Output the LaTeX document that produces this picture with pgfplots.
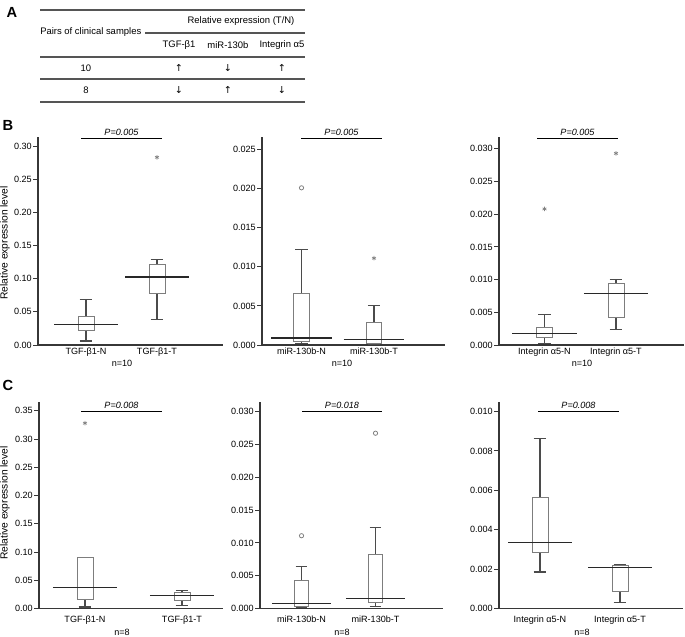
\documentclass[border=0pt]{standalone}
\usepackage{pgfplots}
\pgfplotsset{compat=1.18}
\usepgfplotslibrary{statistics}
\usepackage{fontspec}
\setmainfont{Liberation Sans}
\newfontfamily\arrfont{DejaVu Sans}

\definecolor{axcol}{RGB}{55,55,55}
\definecolor{boxcol}{RGB}{125,125,125}
\definecolor{whcol}{RGB}{75,75,75}
\definecolor{medcol}{RGB}{40,40,40}
\definecolor{tabcol}{RGB}{85,85,85}

\newcommand{\tfont}{\fontsize{6.8}{7.5}\selectfont}
\newcommand{\tabfont}{\fontsize{7.1}{8}\selectfont}

\pgfplotsset{
  bxp/.style={
    scale only axis,
    anchor=south west,
    axis lines=left,
    axis line style={-, draw=axcol, line width=0.9pt},
    ymin=0,
    xtick={1,2},
    xtick style={draw=none},
    ytick style={draw=axcol, line width=0.7pt},
    tick align=outside,
    major tick length=3.5pt,
    tick label style={font=\tfont, text=black},
    /pgf/number format/assume math mode=true,
    scaled y ticks=false,
    yticklabel style={/pgf/number format/fixed, /pgf/number format/fixed zerofill, inner sep=1pt},
    xticklabel style={inner sep=1.5pt},
    clip=false,
    boxplot/draw direction=y,
    boxplot/every box/.style={draw=boxcol, line width=0.7pt},
    boxplot/every whisker/.style={draw=whcol, line width=0.8pt},
    boxplot/every median/.style={draw=medcol, line width=0.8pt},
    boxplot/draw/median/.code={
      \draw[/pgfplots/boxplot/every median/.try]
        (boxplot box cs:\pgfplotsboxplotvalue{median},-1.5) --
        (boxplot box cs:\pgfplotsboxplotvalue{median},2.5);
    },
  },
  rowB/.style={xticklabel style={yshift=3pt}},
  outl star/.style={mark=asterisk, mark size=1.7pt, mark options={draw=gray, line width=0.5pt}},
  outl circ/.style={mark=o, mark size=1.6pt, mark options={draw=gray, line width=0.6pt}},
}

\begin{document}
\begin{tikzpicture}
\path[use as bounding box] (0,0) rectangle (513.75pt,-477pt);

% ---------- B: n=10 ----------
\begin{axis}[bxp, rowB, at={(28.5pt,-258.75pt)}, width=138.75pt, height=156pt,
  xmin=0.324, xmax=2.930, ymax=0.3136,
  ytick={0,0.05,0.10,0.15,0.20,0.25,0.30},
  yticklabel style={/pgf/number format/precision=2},
  xticklabels={TGF-β1-N, TGF-β1-T}, boxplot/box extend=0.225]
\addplot[boxplot prepared={draw position=1, lower whisker=0.006, lower quartile=0.0225,
  median=0.0315, upper quartile=0.043, upper whisker=0.069}] coordinates {};
\addplot[boxplot prepared={draw position=2, lower whisker=0.038, lower quartile=0.078,
  median=0.1025, upper quartile=0.121, upper whisker=0.129}, outl star]
  table[row sep=\\, y index=0] {v\\ 0.283\\};
\end{axis}

\begin{axis}[bxp, rowB, at={(196.5pt,-258.75pt)}, width=137.25pt, height=156pt,
  xmin=0.455, xmax=2.979, ymax=0.0266,
  ytick={0,0.005,0.010,0.015,0.020,0.025},
  yticklabel style={/pgf/number format/precision=3},
  xticklabels={miR-130b-N, miR-130b-T}, boxplot/box extend=0.21]
\addplot[boxplot prepared={draw position=1, lower whisker=0.0002, lower quartile=0.0005,
  median=0.0009, upper quartile=0.0066, upper whisker=0.0122}, outl circ]
  table[row sep=\\, y index=0] {v\\ 0.0201\\};
\addplot[boxplot prepared={draw position=2, lower whisker=0.0001, lower quartile=0.0002,
  median=0.0007, upper quartile=0.0029, upper whisker=0.0050}, outl star]
  table[row sep=\\, y index=0] {v\\ 0.0111\\};
\end{axis}

\begin{axis}[bxp, rowB, at={(374.25pt,-258.75pt)}, width=138.75pt, height=156pt,
  xmin=0.364, xmax=2.951, ymax=0.0318,
  ytick={0,0.005,0.010,0.015,0.020,0.025,0.030},
  yticklabel style={/pgf/number format/precision=3},
  xticklabels={Integrin α5-N, Integrin α5-T}, boxplot/box extend=0.224]
\addplot[boxplot prepared={draw position=1, lower whisker=0.0003, lower quartile=0.00122,
  median=0.00182, upper quartile=0.00274, upper whisker=0.00473}, outl star]
  table[row sep=\\, y index=0] {v\\ 0.0208\\};
\addplot[boxplot prepared={draw position=2, lower whisker=0.00238, lower quartile=0.00415,
  median=0.00781, upper quartile=0.00942, upper whisker=0.0100}, outl star]
  table[row sep=\\, y index=0] {v\\ 0.0293\\};
\end{axis}

% ---------- C: n=8 ----------
\begin{axis}[bxp, at={(29.25pt,-456.5pt)}, width=138pt, height=155.25pt,
  xmin=0.526, xmax=2.423, ymax=0.366,
  ytick={0,0.05,0.10,0.15,0.20,0.25,0.30,0.35},
  yticklabel style={/pgf/number format/precision=2},
  xticklabels={TGF-β1-N, TGF-β1-T}, boxplot/box extend=0.165]
\addplot[boxplot prepared={draw position=1, lower whisker=0.003, lower quartile=0.0167,
  median=0.0375, upper quartile=0.0899, upper whisker=0.0905}, outl star]
  table[row sep=\\, y index=0] {v\\ 0.328\\};
\addplot[boxplot prepared={draw position=2, lower whisker=0.0048, lower quartile=0.0143,
  median=0.0238, upper quartile=0.0286, upper whisker=0.032}] coordinates {};
\end{axis}

\begin{axis}[bxp, at={(195pt,-456.5pt)}, width=137.25pt, height=155.25pt,
  xmin=0.439, xmax=2.912, ymax=0.0315,
  ytick={0,0.005,0.010,0.015,0.020,0.025,0.030},
  yticklabel style={/pgf/number format/precision=3},
  xticklabels={miR-130b-N, miR-130b-T}, boxplot/box extend=0.2]
\addplot[boxplot prepared={draw position=1, lower whisker=0.0002, lower quartile=0.0003,
  median=0.00076, upper quartile=0.0043, upper whisker=0.00646}, outl circ]
  table[row sep=\\, y index=0] {v\\ 0.0111\\};
\addplot[boxplot prepared={draw position=2, lower whisker=0.0004, lower quartile=0.0009,
  median=0.0015, upper quartile=0.0083, upper whisker=0.0123}, outl circ]
  table[row sep=\\, y index=0] {v\\ 0.0267\\};
\end{axis}

\begin{axis}[bxp, at={(374.25pt,-456.5pt)}, width=138pt, height=155.25pt,
  xmin=0.4875, xmax=2.7875, ymax=0.0105,
  ytick={0,0.002,0.004,0.006,0.008,0.010},
  yticklabel style={/pgf/number format/precision=3},
  xticklabels={Integrin α5-N, Integrin α5-T}, boxplot/box extend=0.2]
\addplot[boxplot prepared={draw position=1, lower whisker=0.00186, lower quartile=0.00283,
  median=0.00334, upper quartile=0.00563, upper whisker=0.00865}] coordinates {};
\addplot[boxplot prepared={draw position=2, lower whisker=0.00032, lower quartile=0.00089,
  median=0.00209, upper quartile=0.00219, upper whisker=0.00222}] coordinates {};
\end{axis}

% ---------- annotations (pixel coordinates) ----------
\begin{scope}[x=0.75pt, y=-0.75pt]
  % panel letters
  \node[font=\fontsize{11}{12}\selectfont\bfseries] at (12,12.5) {A};
  \node[font=\fontsize{11}{12}\selectfont\bfseries] at (8,125.5) {B};
  \node[font=\fontsize{11}{12}\selectfont\bfseries] at (8,385.5) {C};

  % table
  \begin{scope}[draw=tabcol, line width=0.9pt]
    \draw (40,10) -- (305,10);
    \draw (145,33) -- (305,33);
    \draw (40,57) -- (305,57);
    \draw (40,79) -- (305,79);
    \draw (40,102) -- (305,102);
  \end{scope}
  \begin{scope}[font=\tabfont, inner sep=0pt]
    \node at (241,21) {Relative expression (T/N)};
    \node[anchor=west] at (40,32) {Pairs of clinical samples};
    \node at (179,45) {TGF-β1};
    \node at (228,45) {miR-130b};
    \node at (282,45) {Integrin α5};
    \node at (86,68) {10};
    \node at (86,90) {8};
    \node[font=\arrfont\fontsize{7.2}{8}\selectfont] at (179,68) {↑};
    \node[font=\arrfont\fontsize{7.2}{8}\selectfont] at (228,68) {↓};
    \node[font=\arrfont\fontsize{7.2}{8}\selectfont] at (282,68) {↑};
    \node[font=\arrfont\fontsize{7.2}{8}\selectfont] at (179,90) {↓};
    \node[font=\arrfont\fontsize{7.2}{8}\selectfont] at (228,90) {↑};
    \node[font=\arrfont\fontsize{7.2}{8}\selectfont] at (282,90) {↓};
  \end{scope}

  % y labels
  \node[font=\fontsize{7.7}{8.5}\selectfont, rotate=90] at (5,243) {Relative expression level};
  \node[font=\fontsize{7.7}{8.5}\selectfont, rotate=90] at (5,503) {Relative expression level};

  % P values
  \begin{scope}[draw=black, line width=0.65pt]
    \draw (81,138) -- (162,138);
    \draw (301,138) -- (382,138);
    \draw (537,138) -- (618,138);
    \draw (81,411) -- (162,411);
    \draw (302,411) -- (382,411);
    \draw (538,411) -- (619,411);
  \end{scope}
  \begin{scope}[font=\fontsize{6.8}{8}\selectfont\itshape, anchor=south, inner sep=0.8pt]
    \node at (121.5,137) {P=0.005};
    \node at (341.5,137) {P=0.005};
    \node at (577.5,137) {P=0.005};
    \node at (121.5,410) {P=0.008};
    \node at (342,410) {P=0.018};
    \node at (578.5,410) {P=0.008};
  \end{scope}

  % n labels
  \begin{scope}[font=\tfont]
    \node at (122,363) {n=10};
    \node at (342,363) {n=10};
    \node at (582,363) {n=10};
    \node at (122,632) {n=8};
    \node at (342,632) {n=8};
    \node at (582,632) {n=8};
  \end{scope}
\end{scope}
\end{tikzpicture}
\end{document}
